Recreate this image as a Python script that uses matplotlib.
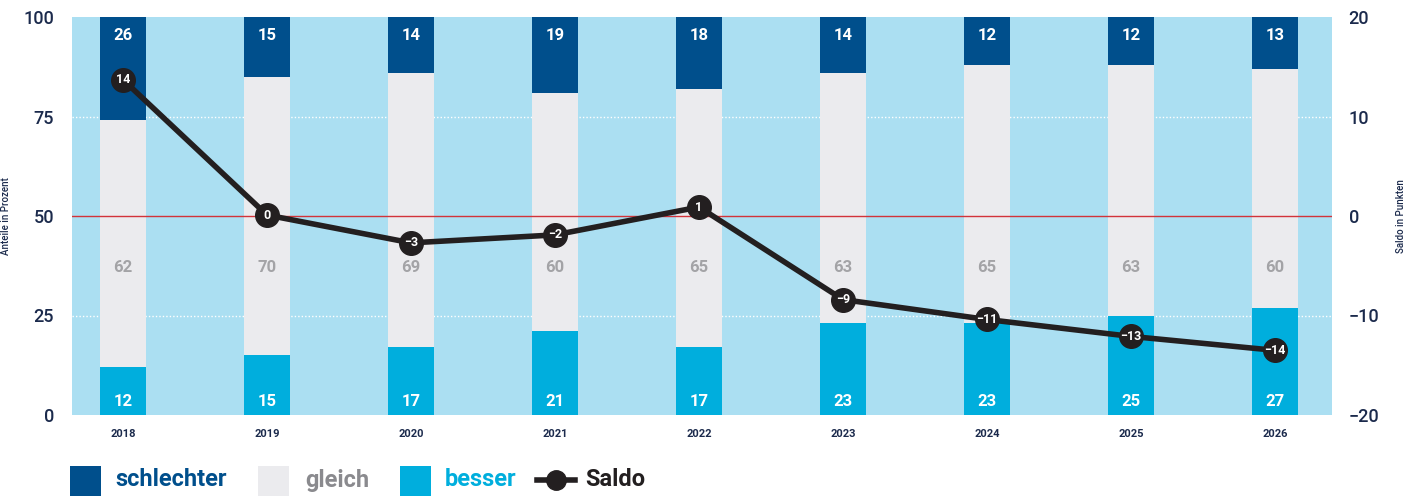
import matplotlib.pyplot as plt
from matplotlib.patches import Rectangle
from matplotlib.lines import Line2D
import numpy as np

years = ['2018', '2019', '2020', '2021', '2022', '2023', '2024', '2025', '2026']
besser = [12, 15, 17, 21, 17, 23, 23, 25, 27]
gleich = [62, 70, 69, 60, 65, 63, 65, 63, 60]
schlechter = [26, 15, 14, 19, 18, 14, 12, 12, 13]
saldo = [13.7, 0.1, -2.7, -1.9, 0.9, -8.4, -10.4, -12.1, -13.5]
saldo_labels = ['14', '0', '\u22123', '\u22122', '1', '\u22129', '\u221211', '\u221213', '\u221214']

c_bg = '#abdff2'
c_schl = '#004f8c'
c_gleich = '#ebebee'
c_bess = '#00aedd'
c_navy = '#1b2a4c'
c_saldo = '#231f20'

plt.rcParams['font.family'] = ['Roboto', 'DejaVu Sans']

fig = plt.figure(figsize=(14.14, 4.96), dpi=100)
ax = fig.add_axes([72/1414, 81/496, 1260/1414, 398/496])
ax.set_facecolor(c_bg)
x = np.arange(len(years))
w = 0.326

# dotted white grid, hidden behind the bars
ax.axhline(25, color='white', lw=1, ls=(0, (1, 1.5)), zorder=1)
ax.axhline(75, color='white', lw=1, ls=(0, (1, 1.5)), zorder=1)

b = np.array(besser)
g = np.array(gleich)
s = np.array(schlechter)
ax.bar(x, b, w, color=c_bess, zorder=2)
ax.bar(x, g, w, bottom=b, color=c_gleich, zorder=2)
ax.bar(x, s, w, bottom=b + g, color=c_schl, zorder=2)
ax.axhline(50, color='#d2333a', lw=1, zorder=3)

for i in range(len(years)):
    ax.text(x[i], 3.5, str(besser[i]), ha='center', va='center', color='white',
            fontsize=12, fontweight='bold', zorder=4)
    ax.text(x[i], 37, str(gleich[i]), ha='center', va='center', color='#a3a3a6',
            fontsize=12, fontweight='bold', zorder=4)
    ax.text(x[i], 95.3, str(schlechter[i]), ha='center', va='center', color='white',
            fontsize=12, fontweight='bold', zorder=4)

ax.set_xlim(-0.354, 8.396)
ax.set_ylim(0, 100)
ax.set_yticks([0, 25, 50, 75, 100])
ax.set_xticks(x)
ax.set_xticklabels(years, fontsize=8, fontweight='bold', color=c_navy)
ax.tick_params(axis='both', length=0)
ax.tick_params(axis='x', pad=10)
ax.tick_params(axis='y', labelsize=13, labelcolor=c_navy, pad=13)
for lab in ax.get_yticklabels():
    lab.set_fontweight('medium')
for sp in ax.spines.values():
    sp.set_visible(False)
ax.set_ylabel('Anteile in Prozent', fontsize=7, color=c_navy, labelpad=9,
              fontweight='medium')

ax2 = ax.twinx()
ax2.set_ylim(-20, 20)
ax2.set_yticks([-20, -10, 0, 10, 20])
ax2.set_yticklabels(['\u221220', '\u221210', '0', '10', '20'])
ax2.tick_params(axis='y', length=0, labelsize=13, labelcolor=c_navy, pad=12)
for lab in ax2.get_yticklabels():
    lab.set_fontweight('medium')
for sp in ax2.spines.values():
    sp.set_visible(False)
ax2.set_ylabel('Saldo in Punkten', fontsize=7, color=c_navy, labelpad=12,
               fontweight='medium')
ax2.plot(x, saldo, color=c_saldo, lw=4, marker='o', markersize=17,
         markerfacecolor=c_saldo, markeredgecolor=c_saldo, zorder=5)
for i in range(len(years)):
    ax2.text(x[i], saldo[i], saldo_labels[i], ha='center', va='center', color='white',
             fontsize=9, fontweight='bold', zorder=6)

# legend
H = 496.0
W = 1414.0
items = [(70, 115, 'schlechter', c_schl, c_schl),
         (258, 305, 'gleich', c_gleich, '#8a8a8e'),
         (400, 445, 'besser', c_bess, c_bess)]
for bx, tx, name, fc, tc in items:
    fig.add_artist(Rectangle((bx/W, 0), 31/W, 30/H, transform=fig.transFigure,
                             facecolor=fc, edgecolor='none'))
    fig.text(tx/W, 1 - 480/H, name, color=tc, fontsize=17, fontweight='bold',
             ha='left', va='center')
fig.add_artist(Line2D([537/W, 575/W], [1 - 480/H, 1 - 480/H], transform=fig.transFigure,
                      color=c_saldo, lw=4))
fig.add_artist(Line2D([556/W], [1 - 480/H], transform=fig.transFigure, marker='o',
                      markersize=14, color=c_saldo))
fig.text(585/W, 1 - 480/H, 'Saldo', color=c_saldo, fontsize=17, fontweight='bold',
         ha='left', va='center')

fig.savefig('out.png', dpi=100)
